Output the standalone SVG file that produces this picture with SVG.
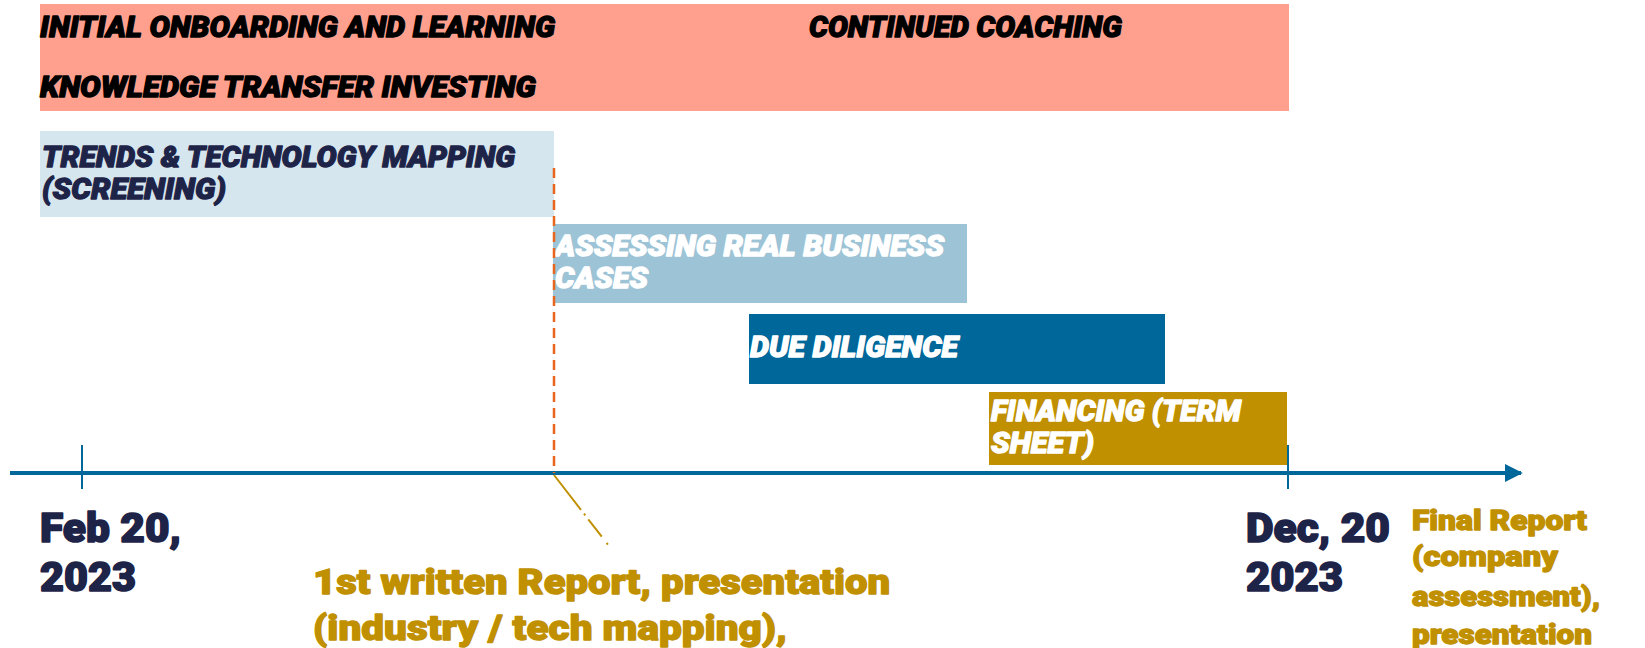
<svg xmlns="http://www.w3.org/2000/svg" width="1645" height="648" viewBox="0 0 1645 648">
<defs>
<style>
.hd{font-family:Roboto,"Liberation Sans",sans-serif;font-weight:900;font-style:italic;font-size:30px;stroke-width:1.3px;stroke-linejoin:round}
.dk{fill:#000;stroke:#000}
.nv{fill:#1e2448;stroke:#1e2448}
.wt{fill:#ffffff;stroke:#ffffff}
.dt{font-family:Roboto,"Liberation Sans",sans-serif;font-weight:900;font-size:41px;fill:#1e2448;stroke:#1e2448;stroke-width:1.6px;stroke-linejoin:round}
.gd{font-family:Roboto,"Liberation Sans",sans-serif;font-weight:900;fill:#c09000;stroke:#c09000;stroke-width:1.3px;stroke-linejoin:round}
</style>
<marker id="arr" viewBox="0 0 10 10" refX="9" refY="5" markerWidth="4.5" markerHeight="4.5" orient="auto" markerUnits="strokeWidth">
<path d="M0,0 L10,5 L0,10 z" fill="#00679a"/>
</marker>
</defs>
<rect width="1645" height="648" fill="#ffffff"/>
<g id="onboarding">
<rect x="40" y="4" width="1249" height="107" fill="#ffa08e"/>
<text class="hd dk" x="40" y="37" textLength="515" lengthAdjust="spacingAndGlyphs">INITIAL ONBOARDING AND LEARNING</text>
<text class="hd dk" x="809" y="37" textLength="313" lengthAdjust="spacingAndGlyphs">CONTINUED COACHING</text>
<text class="hd dk" x="40" y="97" textLength="496" lengthAdjust="spacingAndGlyphs">KNOWLEDGE TRANSFER INVESTING</text>
</g>
<g id="trends">
<rect x="40" y="131" width="514" height="86" fill="#d6e6ef"/>
<text class="hd nv" x="42" y="167" textLength="473" lengthAdjust="spacingAndGlyphs">TRENDS &amp; TECHNOLOGY MAPPING</text>
<text class="hd nv" x="42" y="199" textLength="184" lengthAdjust="spacingAndGlyphs">(SCREENING)</text>
</g>
<g id="assessing">
<rect x="553" y="224" width="414" height="79" fill="#9dc3d6"/>
<text class="hd wt" x="555" y="256" textLength="389" lengthAdjust="spacingAndGlyphs">ASSESSING REAL BUSINESS</text>
<text class="hd wt" x="555" y="288" textLength="93" lengthAdjust="spacingAndGlyphs">CASES</text>
</g>
<g id="duediligence">
<rect x="749" y="314" width="416" height="70" fill="#00679a"/>
<text class="hd wt" x="750" y="357" textLength="208" lengthAdjust="spacingAndGlyphs">DUE DILIGENCE</text>
</g>
<g id="financing">
<rect x="989" y="392" width="298" height="73" fill="#c09000"/>
<text class="hd wt" x="991" y="421" textLength="250" lengthAdjust="spacingAndGlyphs">FINANCING (TERM</text>
<text class="hd wt" x="991" y="453" textLength="103" lengthAdjust="spacingAndGlyphs">SHEET)</text>
</g>
<g id="connectors">
<line x1="10" y1="473" x2="1521" y2="473" stroke="#00679a" stroke-width="4" marker-end="url(#arr)"/>
<line x1="82" y1="445" x2="82" y2="489" stroke="#00679a" stroke-width="2"/>
<line x1="1288" y1="445" x2="1288" y2="489" stroke="#00679a" stroke-width="2"/>
<line x1="554" y1="168" x2="554" y2="473" stroke="#e8651e" stroke-width="2.5" stroke-dasharray="10,6"/>
<line x1="554" y1="475" x2="609" y2="546" stroke="#c09000" stroke-width="2" stroke-dasharray="44,5,2,5,22,8,2,20"/>
</g>
<g id="start-date">
<text class="dt" x="40" y="542" textLength="141" lengthAdjust="spacingAndGlyphs">Feb 20,</text>
<text class="dt" x="40" y="591" textLength="96" lengthAdjust="spacingAndGlyphs">2023</text>
</g>
<g id="end-date">
<text class="dt" x="1246" y="542" textLength="144" lengthAdjust="spacingAndGlyphs">Dec, 20</text>
<text class="dt" x="1246" y="591" textLength="97" lengthAdjust="spacingAndGlyphs">2023</text>
</g>
<g id="first-report">
<text class="gd" font-size="35" x="313" y="594" textLength="577" lengthAdjust="spacingAndGlyphs">1st written Report, presentation</text>
<text class="gd" font-size="35" x="313" y="640" textLength="474" lengthAdjust="spacingAndGlyphs">(industry / tech mapping),</text>
</g>
<g id="final-report">
<text class="gd" font-size="28" x="1412" y="530" textLength="175" lengthAdjust="spacingAndGlyphs">Final Report</text>
<text class="gd" font-size="28" x="1412" y="566" textLength="146" lengthAdjust="spacingAndGlyphs">(company</text>
<text class="gd" font-size="28" x="1412" y="606" textLength="188" lengthAdjust="spacingAndGlyphs">assessment),</text>
<text class="gd" font-size="28" x="1412" y="644" textLength="180" lengthAdjust="spacingAndGlyphs">presentation</text>
</g>
</svg>
